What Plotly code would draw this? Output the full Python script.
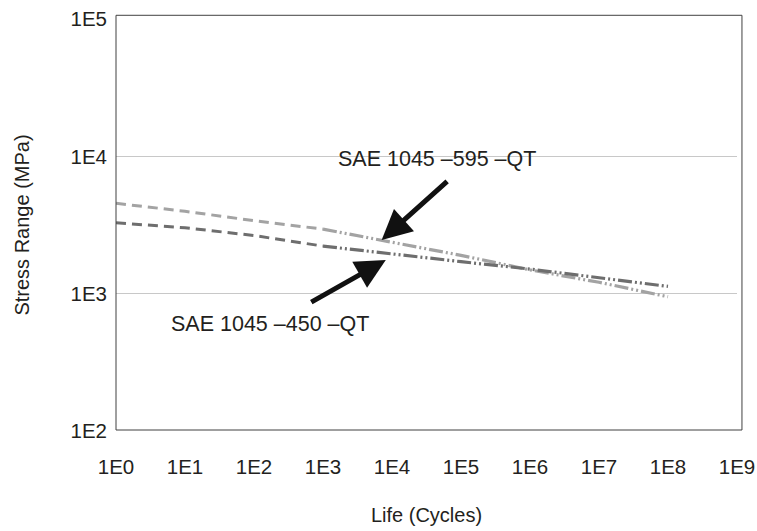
import plotly.graph_objects as go

# Life (cycles) at each decade
life = [1e0, 1e1, 1e2, 1e3, 1e4, 1e5, 1e6, 1e7, 1e8]
# Stress range (MPa)
s595 = [4550, 3980, 3400, 2950, 2380, 1900, 1490, 1210, 950]
s450 = [3280, 3020, 2650, 2220, 1940, 1710, 1510, 1300, 1130]

xtickvals = [1e0, 1e1, 1e2, 1e3, 1e4, 1e5, 1e6, 1e7, 1e8, 1e9]
xticktext = ["1E0", "1E1", "1E2", "1E3", "1E4", "1E5", "1E6", "1E7", "1E8", "1E9"]
ytickvals = [1e2, 1e3, 1e4, 1e5]
yticktext = ["1E2", "1E3", "1E4", "1E5"]

label595 = "SAE 1045 \u2013595 \u2013QT"
label450 = "SAE 1045 \u2013450 \u2013QT"

c595 = "#a3a3a3"
c450 = "#6e6e6e"
split = 3

fig = go.Figure()
for s, c in ((s595, c595), (s450, c450)):
    fig.add_trace(go.Scatter(x=life[:split + 1], y=s[:split + 1], mode="lines",
                             line=dict(color=c, width=3, dash="10px,6px"),
                             showlegend=False, hoverinfo="skip"))
    fig.add_trace(go.Scatter(x=life[split:], y=s[split:], mode="lines",
                             line=dict(color=c, width=3.2, dash="14px,3px,2px,3px,2px,3px"),
                             showlegend=False, hoverinfo="skip"))

family = "Liberation Sans, Arial, sans-serif"
tickfont = dict(family=family, size=20.5, color="#231f20")
titlefont = dict(family=family, size=20, color="#231f20")
annfont = dict(family=family, size=21.5, color="#231f20")

fig.update_layout(
    width=757, height=531,
    margin=dict(l=116, r=20, t=19, b=100),
    paper_bgcolor="white", plot_bgcolor="white",
    font=tickfont,
    xaxis=dict(type="log", range=[0, 9], tickvals=xtickvals, ticktext=xticktext,
               showgrid=False, zeroline=False, showline=False,
               ticks="", ticklabelstandoff=21,
               ticklabeloverflow="allow", tickfont=tickfont, automargin=False,
               title=dict(text="Life (Cycles)", standoff=31, font=titlefont)),
    yaxis=dict(type="log", range=[2, 5], tickvals=ytickvals, ticktext=yticktext,
               showgrid=True, gridcolor="#c8c8c8", gridwidth=1, zeroline=False,
               showline=False, ticks="", ticklabelstandoff=8, tickfont=tickfont,
               automargin=False,
               title=dict(text="Stress Range (MPa)", standoff=35, font=titlefont)),
    shapes=[
        dict(type="rect", xref="paper", yref="paper", x0=0, x1=1.008, y0=0.0024, y1=1.009,
             line=dict(color="#404040", width=1), fillcolor="rgba(0,0,0,0)", layer="above"),
    ],
    annotations=[
        dict(x=3.85, y=3.390, xref="x", yref="y", ax=67, ay=-60, text="",
             showarrow=True, arrowhead=2, arrowsize=1.2, arrowwidth=5, arrowcolor="#111111"),
        dict(x=3.91, y=3.245, xref="x", yref="y", ax=-76, ay=43, text="",
             showarrow=True, arrowhead=2, arrowsize=1.2, arrowwidth=5, arrowcolor="#111111"),
        dict(x=4.65, y=3.980, xref="x", yref="y", text=label595, showarrow=False,
             font=annfont),
        dict(x=2.23, y=2.779, xref="x", yref="y", text=label450, showarrow=False,
             font=annfont),
    ],
)

fig.write_html("out.html", config={"displayModeBar": False},
               post_script="document.body.style.margin='0';")
